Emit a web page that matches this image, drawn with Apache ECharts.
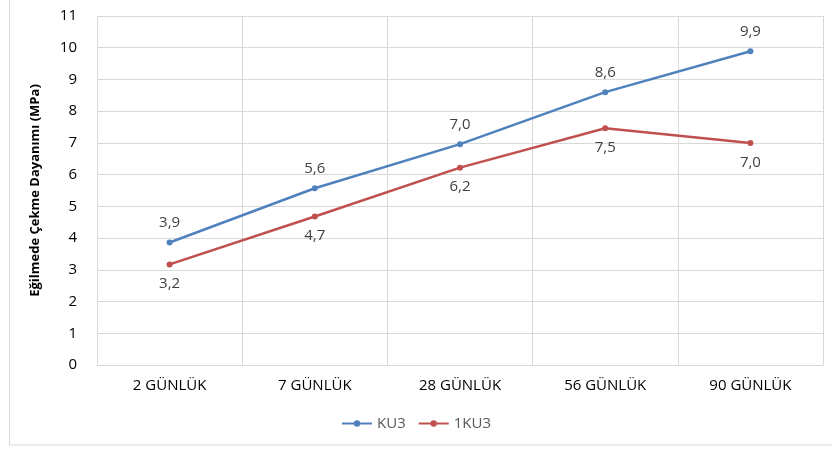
<!DOCTYPE html>
<html>
<head>
<meta charset="utf-8">
<script src="https://cdn.jsdelivr.net/npm/echarts@6/dist/echarts.min.js"></script>
<style>
  html, body { margin: 0; padding: 0; background: #fff; }
  #chart { width: 832px; height: 450px; }
</style>
</head>
<body>
<div id="chart"></div>
<script>
// gün kategorileri ve seriler
const categories = ['2 GÜNLÜK', '7 GÜNLÜK', '28 GÜNLÜK', '56 GÜNLÜK', '90 GÜNLÜK'];
const ku3 = [3.86, 5.57, 6.96, 8.6, 9.89];
const ku3b = [3.17, 4.68, 6.22, 7.46, 7.0];
const yTicks = { min: 0, max: 11, interval: 1 };

const font = '"Open Sans", "Noto Sans", sans-serif';
const fmt = p => p.value.toFixed(1).replace('.', ',');

const chart = echarts.init(document.getElementById('chart'));
chart.setOption({
  animation: false,
  textStyle: { fontFamily: font },
  graphic: [{
    type: 'rect',
    shape: { x: 9.5, y: -5, width: 840, height: 450 },
    style: { fill: 'none', stroke: '#d9d9d9', lineWidth: 1 },
    silent: true
  }],
  grid: { left: 97, right: 9, top: 16, bottom: 85 },
  legend: {
    bottom: 14,
    left: 'center',
    itemWidth: 30,
    itemHeight: 8,
    itemGap: 12,
    textStyle: { color: '#595959', fontSize: 15, fontFamily: font },
    data: ['KU3', '1KU3']
  },
  xAxis: {
    type: 'category',
    data: categories,
    boundaryGap: true,
    axisLine: { lineStyle: { color: '#d9d9d9' } },
    axisTick: { show: false },
    splitLine: { show: true, lineStyle: { color: '#d9d9d9' } },
    axisLabel: { color: '#000', fontSize: 15, margin: 13, fontFamily: font }
  },
  yAxis: {
    type: 'value',
    min: yTicks.min,
    max: yTicks.max,
    interval: yTicks.interval,
    name: 'Eğilmede Çekme Dayanımı (MPa)',
    nameLocation: 'middle',
    nameGap: 55,
    nameTextStyle: { color: '#000', fontSize: 13, fontWeight: 'bold', fontFamily: font },
    axisLine: { show: false },
    axisTick: { show: false },
    splitLine: { lineStyle: { color: '#d9d9d9' } },
    axisLabel: { color: '#000', fontSize: 15, margin: 20, fontFamily: font }
  },
  series: [
    {
      name: 'KU3',
      type: 'line',
      data: ku3,
      color: '#4f81bd',
      symbol: 'circle',
      symbolSize: 6,
      lineStyle: { width: 2.5 },
      label: { show: true, position: 'top', distance: 9, color: '#404040', fontSize: 15, formatter: fmt }
    },
    {
      name: '1KU3',
      type: 'line',
      data: ku3b,
      color: '#c0504d',
      symbol: 'circle',
      symbolSize: 6,
      lineStyle: { width: 2.5 },
      label: { show: true, position: 'bottom', distance: 9, color: '#404040', fontSize: 15, formatter: fmt }
    }
  ]
});
</script>
</body>
</html>
